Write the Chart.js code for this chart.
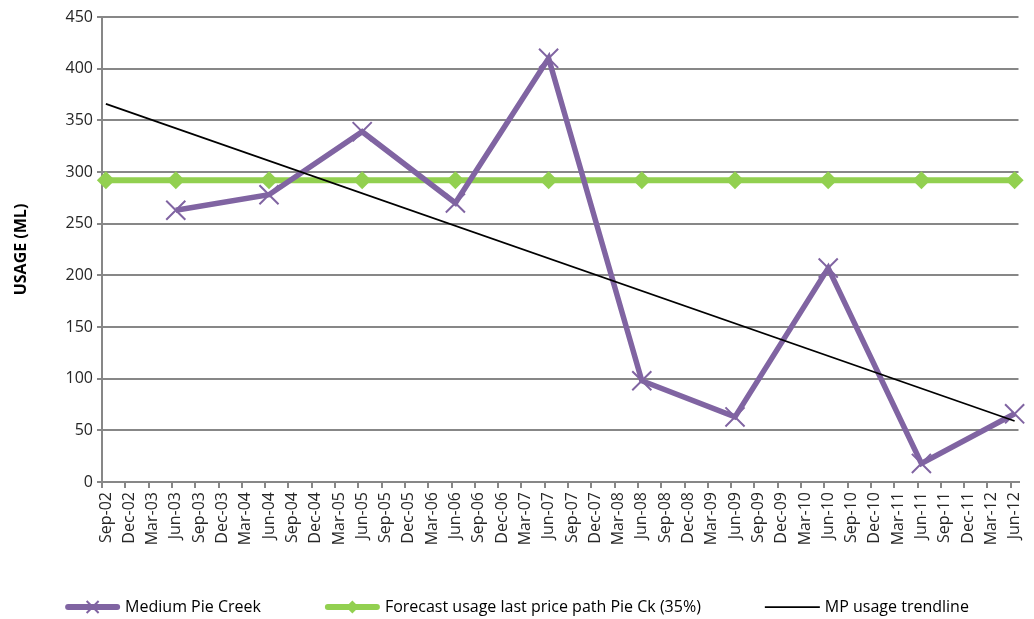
<!DOCTYPE html>
<html>
<head>
<meta charset="utf-8">
<title>Medium Pie Creek usage</title>
<script src="https://cdn.jsdelivr.net/npm/chart.js@4/dist/chart.umd.min.js"></script>
<style>
  html, body { margin: 0; padding: 0; background: #ffffff; }
  canvas { display: block; }
</style>
</head>
<body>
<canvas id="usageChart" width="1034" height="619"></canvas>
<script>
// Quarterly category labels along the time axis
const quarters = [
  'Sep-02','Dec-02','Mar-03','Jun-03','Sep-03','Dec-03','Mar-04','Jun-04',
  'Sep-04','Dec-04','Mar-05','Jun-05','Sep-05','Dec-05','Mar-06','Jun-06',
  'Sep-06','Dec-06','Mar-07','Jun-07','Sep-07','Dec-07','Mar-08','Jun-08',
  'Sep-08','Dec-08','Mar-09','Jun-09','Sep-09','Dec-09','Mar-10','Jun-10',
  'Sep-10','Dec-10','Mar-11','Jun-11','Sep-11','Dec-11','Mar-12','Jun-12'
];

// Medium Pie Creek annual usage (ML)
const pieCreekDates = ['Jun-03','Jun-04','Jun-05','Jun-06','Jun-07','Jun-08','Jun-09','Jun-10','Jun-11','Jun-12'];
const pieCreekUsage = [263, 278, 339, 270, 410, 98, 63, 207, 18, 66];

// Forecast usage, last price path (35%)
const forecastDates = ['Sep-02','Jun-03','Jun-04','Jun-05','Jun-06','Jun-07','Jun-08','Jun-09','Jun-10','Jun-11','Jun-12'];
const forecastUsage = [292, 292, 292, 292, 292, 292, 292, 292, 292, 292, 292];

// Linear usage trendline end points
const trendDates = ['Sep-02', 'Jun-12'];
const trendUsage = [366, 59];

// Value axis
const yMin = 0;
const yMax = 450;
const yStep = 50;

const FONT = '"Open Sans", "DejaVu Sans", sans-serif';
const GRID = '#878787';
const TEXT = '#262626';

// Months elapsed since the first quarter; readings sit mid-month
const monthOf = label => quarters.indexOf(label) * 3 + 0.5;
const toPoints = (dates, values) => dates.map((d, i) => ({ x: monthOf(d), y: values[i] }));

// Legend drawn beneath the axis labels: line sample, marker, label
const bottomLegend = {
  id: 'bottomLegend',
  afterDraw(chart) {
    const ctx = chart.ctx;
    const sampleW = 55, textGap = 5, itemGap = 64, cy = 607;
    ctx.save();
    ctx.font = '16px ' + FONT;
    ctx.textBaseline = 'middle';
    ctx.textAlign = 'left';
    const items = chart.data.datasets.map(ds => ({
      ds, w: sampleW + textGap + ctx.measureText(ds.label).width
    }));
    const total = items.reduce((s, it) => s + it.w, 0) + itemGap * (items.length - 1);
    let x = (chart.width - total) / 2;
    items.forEach(({ ds, w }) => {
      const lw = ds.legendLineWidth;
      ctx.strokeStyle = ds.borderColor;
      ctx.lineWidth = lw;
      ctx.lineCap = lw > 3 ? 'round' : 'butt';
      ctx.beginPath();
      ctx.moveTo(x + (lw > 3 ? lw / 2 : 0), cy);
      ctx.lineTo(x + sampleW - (lw > 3 ? lw / 2 : 0), cy);
      ctx.stroke();
      const mx = x + sampleW / 2;
      if (ds.pointStyle === 'crossRot') {
        const r = 6;
        ctx.lineWidth = 2;
        ctx.lineCap = 'butt';
        ctx.strokeStyle = ds.pointBorderColor;
        ctx.beginPath();
        ctx.moveTo(mx - r, cy - r); ctx.lineTo(mx + r, cy + r);
        ctx.moveTo(mx + r, cy - r); ctx.lineTo(mx - r, cy + r);
        ctx.stroke();
      } else if (ds.pointStyle === 'rectRot') {
        const r = 6.5;
        ctx.fillStyle = ds.pointBackgroundColor;
        ctx.beginPath();
        ctx.moveTo(mx - r, cy); ctx.lineTo(mx, cy - r);
        ctx.lineTo(mx + r, cy); ctx.lineTo(mx, cy + r);
        ctx.closePath();
        ctx.fill();
      }
      ctx.fillStyle = '#000000';
      ctx.fillText(ds.label, x + sampleW + textGap, cy);
      x += w + itemGap;
    });
    ctx.restore();
  }
};

new Chart(document.getElementById('usageChart'), {
  type: 'line',
  data: {
    datasets: [
      {
        label: 'Medium Pie Creek',
        data: toPoints(pieCreekDates, pieCreekUsage),
        borderColor: '#8064A2',
        borderWidth: 5.5,
        legendLineWidth: 6,
        pointStyle: 'crossRot',
        pointRadius: 13.5,
        pointBorderWidth: 2,
        pointBorderColor: '#8064A2',
        pointBackgroundColor: '#8064A2',
        tension: 0,
        clip: false,
        order: 1
      },
      {
        label: 'Forecast usage last price path Pie Ck (35%)',
        data: toPoints(forecastDates, forecastUsage),
        borderColor: '#92D050',
        borderWidth: 6,
        legendLineWidth: 6,
        pointStyle: 'rectRot',
        pointRadius: 9,
        pointBorderWidth: 0,
        pointBackgroundColor: '#92D050',
        pointBorderColor: '#92D050',
        tension: 0,
        clip: false,
        order: 2
      },
      {
        label: 'MP usage trendline',
        data: toPoints(trendDates, trendUsage),
        borderColor: '#000000',
        borderWidth: 1.75,
        legendLineWidth: 1.75,
        pointRadius: 0,
        tension: 0,
        clip: false,
        order: 0
      }
    ]
  },
  options: {
    responsive: false,
    animation: false,
    events: [],
    devicePixelRatio: 1,
    layout: { padding: { top: 17, right: 9, bottom: 40, left: 0 } },
    plugins: {
      legend: { display: false },
      tooltip: { enabled: false }
    },
    scales: {
      x: {
        type: 'linear',
        min: 0,
        max: (quarters.length - 1) * 3 + 1,
        afterBuildTicks: scale => {
          scale.ticks = quarters.map((q, i) => ({ value: i * 3 }));
        },
        afterFit: scale => {
          scale.height = 97;
          scale.paddingLeft = 0;
          scale.paddingRight = 0;
        },
        ticks: {
          autoSkip: false,
          minRotation: 90,
          maxRotation: 90,
          padding: 4,
          labelOffset: 4,
          color: TEXT,
          font: { family: FONT, size: 16 },
          callback: (value, index) => quarters[index]
        },
        grid: {
          drawOnChartArea: false,
          drawTicks: true,
          tickLength: 6,
          color: GRID,
          lineWidth: 2
        },
        border: { color: GRID, width: 2 }
      },
      y: {
        type: 'linear',
        min: yMin,
        max: yMax,
        afterFit: scale => { scale.width = 102; },
        ticks: {
          stepSize: yStep,
          padding: 4,
          color: TEXT,
          font: { family: FONT, size: 16 }
        },
        grid: {
          color: GRID,
          lineWidth: 2,
          tickLength: 5
        },
        border: { color: GRID, width: 2 },
        title: {
          display: true,
          text: 'USAGE (ML)',
          color: '#000000',
          font: { family: FONT, size: 16, weight: 'bold' },
          padding: { top: 12, bottom: 0 }
        }
      }
    }
  },
  plugins: [bottomLegend]
});
</script>
</body>
</html>
